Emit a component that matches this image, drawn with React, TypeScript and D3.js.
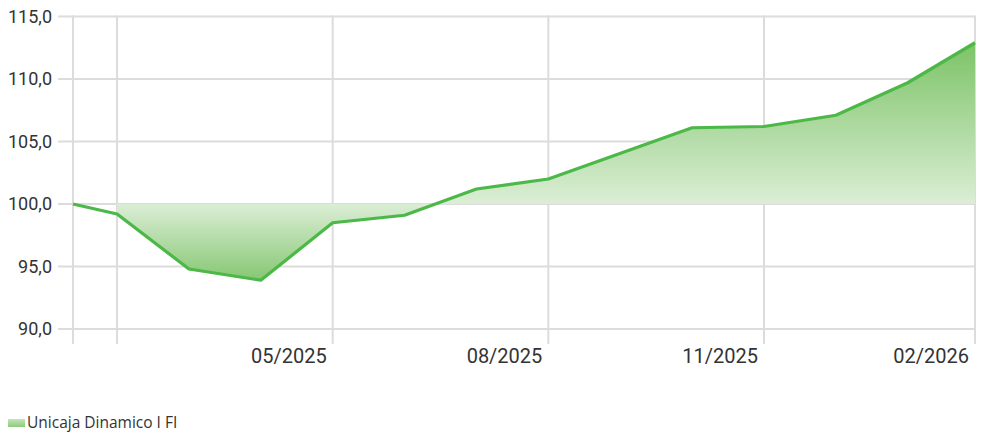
import React from "react";
import * as d3 from "d3";

const dates = [
  "2025-01-13", "2025-02-01", "2025-03-01", "2025-04-01", "2025-05-01",
  "2025-06-01", "2025-07-01", "2025-08-01", "2025-10-01", "2025-11-01",
  "2025-12-01", "2026-01-01", "2026-01-30",
];
const values = [100.0, 99.2, 94.8, 93.9, 98.5, 99.1, 101.2, 102.0, 106.1, 106.2, 107.1, 109.7, 112.9];
const tickDates = ["2025-02-01", "2025-05-01", "2025-08-01", "2025-11-01", "2026-01-30"];
const tickLabels = ["", "05/2025", "08/2025", "11/2025", "02/2026"];
const yTicks = [90, 95, 100, 105, 110, 115];
const baseline = 100;
const seriesName = "Unicaja Dinamico I FI";

const W = 985, H = 432;
const left = 73, right = 975, top = 16.5, bottom = 329;

function monthIndex(s: string): number {
  const [y, m, d] = s.split("-").map(Number);
  const dim = new Date(y, m, 0).getDate();
  return (y - 2025) * 12 + (m - 1) + (d - 1) / dim;
}

export default function App() {
  const xs = dates.map(monthIndex);
  const x = d3.scaleLinear().domain([xs[0], xs[xs.length - 1]]).range([left, right]);
  const y = d3.scaleLinear().domain([90, 115]).range([bottom, top]);
  const data = xs.map((v, i) => ({ x: v, y: values[i] }));

  const line = d3.line<{ x: number; y: number }>().x(d => x(d.x)).y(d => y(d.y));
  const area = d3.area<{ x: number; y: number }>().x(d => x(d.x)).y0(y(baseline)).y1(d => y(d.y));

  const yMax = y(d3.max(values)!);
  const yMin = y(d3.min(values)!);
  const baseOff = (y(baseline) - yMax) / (yMin - yMax);

  const font = "Roboto, 'DejaVu Sans', sans-serif";

  return (
    <svg width={W} height={H} style={{ position: "absolute", left: 0, top: 0, background: "#fff" }}>
      <defs>
        <linearGradient id="fillGrad" gradientUnits="userSpaceOnUse" x1={0} x2={0} y1={yMax} y2={yMin}>
          <stop offset={0} stopColor="#7cc367" />
          <stop offset={baseOff} stopColor="#dbeed5" />
          <stop offset={1} stopColor="#86c773" />
        </linearGradient>
        <linearGradient id="legGrad" x1="0" x2="0" y1="0" y2="1">
          <stop offset={0} stopColor="#c4e4ba" />
          <stop offset={1} stopColor="#8ccb7a" />
        </linearGradient>
      </defs>

      {yTicks.map(t => (
        <g key={t}>
          <line x1={58} x2={right} y1={y(t)} y2={y(t)} stroke="#dcdcdc" strokeWidth={2} />
          <text x={52} y={y(t)} dy="0.36em" textAnchor="end" fontFamily={font} fontSize={18} fill="#333">
            {d3.format(".1f")(t).replace(".", ",")}
          </text>
        </g>
      ))}

      <line x1={left} x2={left} y1={top - 1} y2={344} stroke="#dcdcdc" strokeWidth={2} />
      {tickDates.map((t, i) => {
        const px = x(monthIndex(t));
        return (
          <g key={t}>
            <line x1={px} x2={px} y1={top - 1} y2={344} stroke="#dcdcdc" strokeWidth={2} />
            {tickLabels[i] && (
              <text x={px - 6} y={363} textAnchor="end" fontFamily={font} fontSize={20} fill="#333">
                {tickLabels[i]}
              </text>
            )}
          </g>
        );
      })}

      <path d={area(data.slice(1)) || ""} fill="url(#fillGrad)" />
      <path d={line(data) || ""} fill="none" stroke="#4cb847" strokeWidth={3.2} strokeLinejoin="round" />

      <rect x={8} y={419} width={17} height={8} fill="url(#legGrad)" />
      <text x={27} y={428} fontFamily="'Open Sans', sans-serif" fontSize={15.5} fill="#333">{seriesName}</text>
    </svg>
  );
}
